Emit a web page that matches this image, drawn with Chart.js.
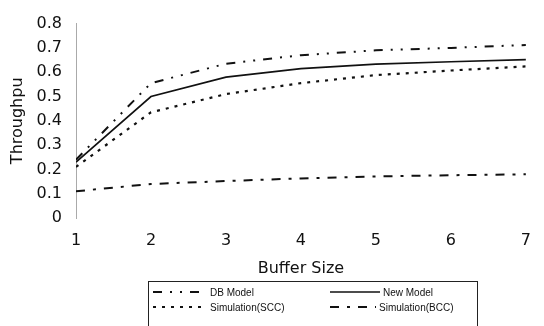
<!DOCTYPE html>
<html>
<head>
<meta charset="utf-8">
<script src="https://cdn.jsdelivr.net/npm/chart.js@4"></script>
<style>
  body { margin: 0; background: #fff; }
  #wrap { position: relative; width: 544px; height: 326px; overflow: hidden; }
  #legend {
    position: absolute; left: 148px; top: 281px; width: 330px; height: 60px;
    border: 1px solid #222; box-sizing: border-box;
    font-family: "Liberation Sans", Arial, sans-serif; font-size: 10px; color: #111;
  }
  .item { position: absolute; height: 14px; display: flex; align-items: center; }
  .item svg { margin-right: 3px; }
</style>
</head>
<body>
<div id="wrap">
  <canvas id="chart" width="544" height="326"></canvas>
  <div id="legend"></div>
</div>
<script>
const bufferSizes = [1, 2, 3, 4, 5, 6, 7];
const dbModel = [0.24, 0.555, 0.635, 0.67, 0.69, 0.70, 0.712];
const newModel = [0.23, 0.50, 0.58, 0.615, 0.633, 0.643, 0.652];
const simSCC = [0.21, 0.435, 0.51, 0.555, 0.588, 0.607, 0.624];
const simBCC = [0.11, 0.14, 0.152, 0.163, 0.171, 0.176, 0.18];
const seriesNames = ['DB Model', 'New Model', 'Simulation(SCC)', 'Simulation(BCC)'];

const dashes = [[9, 8, 2, 8, 2, 8], [], [3, 6], [9, 8, 3, 8]];
const widths = [2, 1.7, 2.2, 2];

const toPoints = vals => vals.map((v, i) => ({ x: bufferSizes[i], y: v }));
const seriesData = [dbModel, newModel, simSCC, simBCC];

const tickFont = { family: 'DejaVu Sans', size: 16 };

new Chart(document.getElementById('chart'), {
    type: 'line',
    data: {
        datasets: seriesData.map((vals, i) => ({
            label: seriesNames[i],
            data: toPoints(vals),
            borderColor: '#111',
            borderWidth: widths[i],
            borderDash: dashes[i],
            pointRadius: 0,
            fill: false,
            tension: 0
        }))
    },
    options: {
        responsive: false,
        animation: false,
        layout: { padding: { left: 0, right: 14, top: 18, bottom: 44 } },
        plugins: { legend: { display: false }, tooltip: { enabled: false } },
        scales: {
            x: {
                type: 'linear', min: 1, max: 7,
                ticks: { stepSize: 1, padding: 13, color: '#111', font: tickFont },
                grid: { display: false, drawTicks: false },
                border: { display: false },
                title: { display: true, text: 'Buffer Size', color: '#111', font: tickFont, padding: { top: 0, bottom: 4 } },
                afterFit(s) { s.height = 64; }
            },
            y: {
                min: 0, max: 0.8,
                ticks: { stepSize: 0.1, padding: 14, color: '#111', font: tickFont },
                grid: { drawOnChartArea: false, drawTicks: false },
                border: { display: true, color: '#aaa', dash: [1, 3], width: 1 },
                title: { display: true, text: 'Throughpu', color: '#111', font: tickFont, padding: { top: 8, bottom: 0 } },
                afterFit(s) { s.width = 76; }
            }
        }
    }
});

// legend built by hand, 2 columns like the original
const legend = document.getElementById('legend');
const slots = [
    { left: 4, top: 3, len: 54 },
    { left: 181, top: 3, len: 50 },
    { left: 4, top: 18, len: 54 },
    { left: 181, top: 18, len: 46 }
];
seriesNames.forEach((name, i) => {
    const s = slots[i];
    const div = document.createElement('div');
    div.className = 'item';
    div.style.left = s.left + 'px';
    div.style.top = s.top + 'px';
    div.innerHTML =
        `<svg width="${s.len}" height="6"><line x1="0" y1="3" x2="${s.len}" y2="3" stroke="#111" stroke-width="${widths[i]}" stroke-dasharray="${dashes[i].join(' ')}"/></svg>` +
        `<span>${name}</span>`;
    legend.appendChild(div);
});
</script>
</body>
</html>
